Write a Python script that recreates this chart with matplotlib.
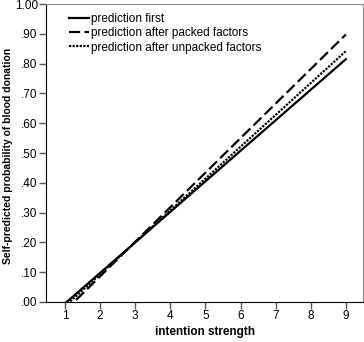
import matplotlib
matplotlib.use('Agg')
import matplotlib.pyplot as plt
from matplotlib.ticker import FuncFormatter

plt.rcParams['font.family'] = ['Liberation Sans', 'DejaVu Sans']

# Regression lines: predicted probability at intention strength 1 and 9
intention = [1, 9]
pred_first = [-0.005, 0.815]
pred_packed = [-0.03, 0.898]
pred_unpacked = [-0.014, 0.842]

series_names = ['prediction first',
                'prediction after packed factors',
                'prediction after unpacked factors']
y_ticks = [0.0, 0.1, 0.2, 0.3, 0.4, 0.5, 0.6, 0.7, 0.8, 0.9, 1.0]
x_ticks = [1, 2, 3, 4, 5, 6, 7, 8, 9]

fig = plt.figure(figsize=(3.64, 3.42), dpi=100)
ax = fig.add_axes([0.1264, 0.117, 0.871, 0.871])

ax.plot(intention, pred_first, color='black', lw=1.6, ls='-', label=series_names[0])
ax.plot(intention, pred_packed, color='black', lw=1.6, ls=(0, (5, 2)), label=series_names[1])
ax.plot(intention, pred_unpacked, color='black', lw=1.6, ls=(0, (1, 0.6)), label=series_names[2])

ax.set_xlim(0.46, 9.49)
ax.set_ylim(0, 1.0)
ax.set_xticks(x_ticks)
ax.set_yticks(y_ticks)
ax.yaxis.set_major_formatter(FuncFormatter(lambda v, p: f'{v:.2f}'.lstrip('0') if v < 1 else f'{v:.2f}'))

for side in ['top', 'right']:
    ax.spines[side].set_color('#888888')
for side in ['left', 'bottom']:
    ax.spines[side].set_color('black')
ax.tick_params(direction='out', length=5, width=1, color='#555555', labelsize=8.5, pad=1)

ax.set_xlabel('intention strength', fontsize=8.5, fontweight='bold')
ax.xaxis.set_label_coords(0.5, -0.1)
ax.xaxis.label.set_va('center')
ax.set_ylabel('Self-predicted probability of blood donation', fontsize=7.5,
              fontweight='bold')
ax.yaxis.set_label_coords(-0.12, 0.49)
ax.yaxis.label.set_va('center')

ax.legend(loc='upper left', frameon=False, fontsize=8.5, handlelength=1.7,
          handletextpad=0.15, labelspacing=0.18, borderaxespad=0.0,
          bbox_to_anchor=(0.058, 0.985))

fig.savefig('out.png', dpi=100)
